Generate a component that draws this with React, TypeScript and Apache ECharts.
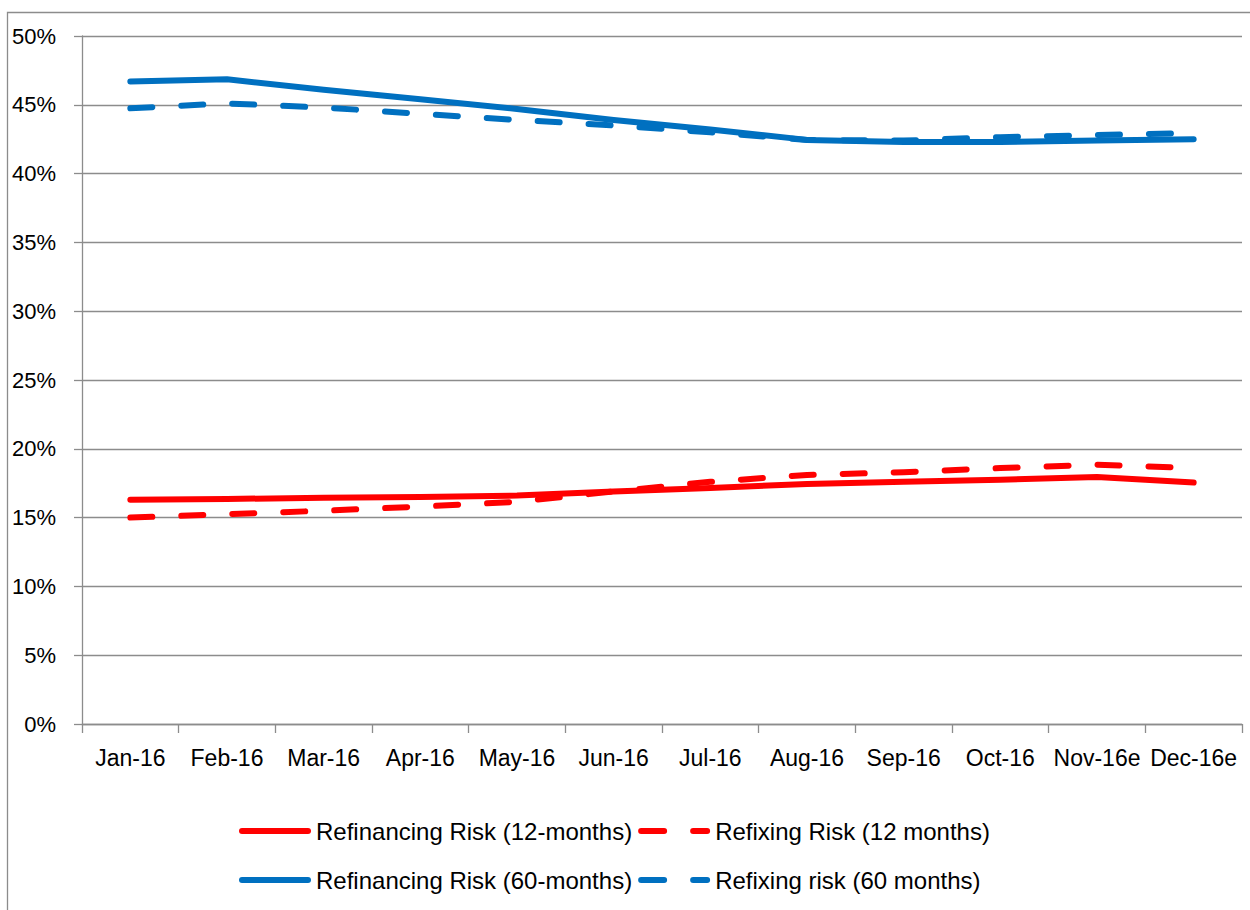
import React, { useEffect, useRef } from 'react';
import * as echarts from 'echarts';

const categories = ['Jan-16', 'Feb-16', 'Mar-16', 'Apr-16', 'May-16', 'Jun-16', 'Jul-16', 'Aug-16', 'Sep-16', 'Oct-16', 'Nov-16e', 'Dec-16e'];
const refinancing12 = [16.3, 16.35, 16.45, 16.5, 16.6, 16.9, 17.15, 17.45, 17.6, 17.75, 17.95, 17.55];
const refixing12 = [15.0, 15.25, 15.5, 15.8, 16.15, 16.9, 17.6, 18.1, 18.3, 18.6, 18.85, 18.6];
const refinancing60 = [46.7, 46.85, 46.1, 45.4, 44.7, 43.9, 43.2, 42.45, 42.3, 42.3, 42.4, 42.5];
const refixing60 = [44.75, 45.1, 44.8, 44.35, 43.9, 43.5, 43.0, 42.45, 42.4, 42.65, 42.8, 42.95];

const seriesNames = [
  'Refinancing Risk (12-months)',
  'Refixing Risk (12 months)',
  'Refinancing Risk (60-months)',
  'Refixing risk (60 months)',
];

const RED = '#FF0000';
const BLUE = '#0070C0';
const FONT = 'Liberation Sans, Arial, sans-serif';
const DASH = [22, 29];

const SOLID_ICON = 'path://M3,0h66a3,3 0 0 1 0,6h-66a3,3 0 0 1 0,-6z';
const DASH_ICON = 'path://M3,0h23a3,3 0 0 1 0,6h-23a3,3 0 0 1 0,-6z M55,0h14a3,3 0 0 1 0,6h-14a3,3 0 0 1 0,-6z';

export default function App() {
  const ref = useRef<HTMLDivElement>(null);
  useEffect(() => {
    if (!ref.current) return;
    const chart = echarts.init(ref.current, undefined, { renderer: 'svg' });
    const mk = (name: string, data: number[], color: string, dashed: boolean) => ({
      name,
      type: 'line',
      data,
      symbol: 'none',
      showSymbol: false,
      color,
      itemStyle: { color },
      lineStyle: { color, width: 6, type: dashed ? DASH : 'solid', cap: 'round', join: 'round' },
    });
    const legendBase = {
      left: 239,
      padding: 0,
      itemWidth: 72,
      itemHeight: 6,
      itemGap: 6,
      symbolKeepAspect: false,
      textStyle: { fontFamily: FONT, fontSize: 24, color: '#000' },
    };
    chart.setOption({
      animation: false,
      backgroundColor: '#fff',
      textStyle: { fontFamily: FONT, color: '#000' },
      grid: { left: 82, right: 8, top: 36, bottom: 186, containLabel: false },
      graphic: [
        {
          type: 'rect',
          shape: { x: 7.5, y: 12.5, width: 1400, height: 1100 },
          style: { fill: 'none', stroke: '#8c8c8c', lineWidth: 1.3 },
          silent: true,
        },
      ],
      legend: [
        {
          ...legendBase,
          top: 819,
          data: [
            { name: seriesNames[0], icon: SOLID_ICON },
            { name: seriesNames[1], icon: DASH_ICON },
          ],
        },
        {
          ...legendBase,
          top: 868,
          data: [
            { name: seriesNames[2], icon: SOLID_ICON },
            { name: seriesNames[3], icon: DASH_ICON },
          ],
        },
      ],
      xAxis: {
        type: 'category',
        data: categories,
        boundaryGap: true,
        axisLine: { show: true, lineStyle: { color: '#8c8c8c', width: 1.3 } },
        axisTick: { show: true, alignWithLabel: false, length: 9, lineStyle: { color: '#8c8c8c', width: 1.3 } },
        axisLabel: { fontFamily: FONT, fontSize: 23, color: '#000', margin: 22, interval: 0 },
        splitLine: { show: false },
      },
      yAxis: {
        type: 'value',
        min: 0,
        max: 50,
        interval: 5,
        axisLine: { show: true, lineStyle: { color: '#8c8c8c', width: 1.3 } },
        axisTick: { show: true, length: 8, lineStyle: { color: '#8c8c8c', width: 1.3 } },
        axisLabel: { fontFamily: FONT, fontSize: 22, color: '#000', margin: 26, formatter: '{value}%' },
        splitLine: { show: true, lineStyle: { color: '#8c8c8c', width: 1.3 } },
      },
      series: [
        mk(seriesNames[0], refinancing12, RED, false),
        mk(seriesNames[1], refixing12, RED, true),
        mk(seriesNames[2], refinancing60, BLUE, false),
        mk(seriesNames[3], refixing60, BLUE, true),
      ],
    });
    return () => chart.dispose();
  }, []);
  return <div ref={ref} style={{ position: 'absolute', left: 0, top: 0, width: 1250, height: 910 }} />;
}
